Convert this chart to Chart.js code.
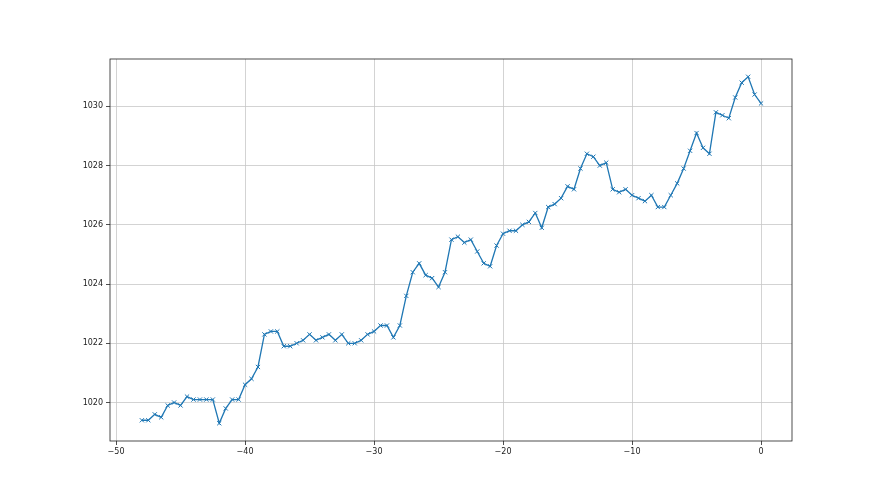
<!DOCTYPE html>
<html>
<head>
<meta charset="utf-8">
<script src="https://cdn.jsdelivr.net/npm/chart.js@4.4.0/dist/chart.umd.min.js"></script>
<style>
  html, body { margin: 0; padding: 0; background: #fff; }
  #wrap { width: 880px; height: 495px; }
</style>
</head>
<body>
<div id="wrap"><canvas id="c" width="880" height="495"></canvas></div>
<script>
const xStart = -48;
const xStep = 0.5;
const pressure = [
  1019.4, 1019.4, 1019.6, 1019.5, 1019.9, 1020.0, 1019.9, 1020.2, 1020.1, 1020.1,
  1020.1, 1020.1, 1019.3, 1019.8, 1020.1, 1020.1, 1020.6, 1020.8, 1021.2, 1022.3,
  1022.4, 1022.4, 1021.9, 1021.9, 1022.0, 1022.1, 1022.3, 1022.1, 1022.2, 1022.3,
  1022.1, 1022.3, 1022.0, 1022.0, 1022.1, 1022.3, 1022.4, 1022.6, 1022.6, 1022.2,
  1022.6, 1023.6, 1024.4, 1024.7, 1024.3, 1024.2, 1023.9, 1024.4, 1025.5, 1025.6,
  1025.4, 1025.5, 1025.1, 1024.7, 1024.6, 1025.3, 1025.7, 1025.8, 1025.8, 1026.0,
  1026.1, 1026.4, 1025.9, 1026.6, 1026.7, 1026.9, 1027.3, 1027.2, 1027.9, 1028.4,
  1028.3, 1028.0, 1028.1, 1027.2, 1027.1, 1027.2, 1027.0, 1026.9, 1026.8, 1027.0,
  1026.6, 1026.6, 1027.0, 1027.4, 1027.9, 1028.5, 1029.1, 1028.6, 1028.4, 1029.8,
  1029.7, 1029.6, 1030.3, 1030.8, 1031.0, 1030.4, 1030.1
];
const xTicks = [-50, -40, -30, -20, -10, 0];
const yTicks = [1020, 1022, 1024, 1026, 1028, 1030];

const points = pressure.map((v, i) => ({ x: xStart + i * xStep, y: v }));

const boxPlugin = {
  id: 'box',
  afterDraw(chart) {
    const { ctx, chartArea: a } = chart;
    ctx.save();
    ctx.strokeStyle = '#222';
    ctx.lineWidth = 0.8;
    ctx.strokeRect(a.left, a.top, a.right - a.left, a.bottom - a.top);
    ctx.restore();
  }
};

new Chart(document.getElementById('c'), {
  type: 'scatter',
  data: {
    datasets: [{
      data: points,
      showLine: true,
      borderColor: '#1f77b4',
      borderWidth: 1.3,
      pointStyle: 'crossRot',
      pointRadius: 3,
      pointBorderWidth: 1,
      pointBorderColor: '#1f77b4',
      pointBackgroundColor: '#1f77b4',
      tension: 0
    }]
  },
  options: {
    responsive: false,
    animation: false,
    layout: { padding: { top: 59, right: 88, left: 0, bottom: 0 } },
    plugins: { legend: { display: false }, tooltip: { enabled: false } },
    scales: {
      x: {
        type: 'linear',
        min: -50.47,
        max: 2.4,
        afterBuildTicks(scale) { scale.ticks = xTicks.map(v => ({ value: v })); },
        afterFit(scale) { scale.height = 54; },
        grid: { color: '#c8c8c8', lineWidth: 0.8, tickColor: '#222', tickLength: 4, drawTicks: true },
        border: { display: false },
        ticks: { color: '#222', font: { family: 'DejaVu Sans', size: 8 }, padding: 2, maxRotation: 0, autoSkip: false,
          callback: v => (v < 0 ? '\u2212' + Math.abs(v) : String(v)) }
      },
      y: {
        type: 'linear',
        min: 1018.7,
        max: 1031.6,
        afterBuildTicks(scale) { scale.ticks = yTicks.map(v => ({ value: v })); },
        afterFit(scale) { scale.width = 110; },
        grid: { color: '#c8c8c8', lineWidth: 0.8, tickColor: '#222', tickLength: 4, drawTicks: true },
        border: { display: false },
        ticks: { color: '#222', font: { family: 'DejaVu Sans', size: 8 }, padding: 3, autoSkip: false,
          callback: v => String(v) }
      }
    }
  },
  plugins: [boxPlugin]
});
</script>
</body>
</html>
